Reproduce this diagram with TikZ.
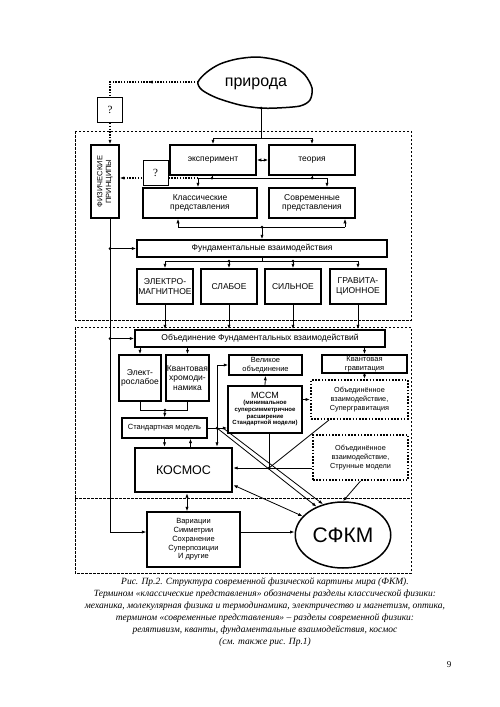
\documentclass[tikz,border=0pt]{standalone}
\usepackage{fontspec}
\setmainfont{Liberation Serif}
\setsansfont{Liberation Sans}
\usetikzlibrary{arrows.meta,calc,shapes.geometric}

\tikzset{
  blk/.style={draw, line width=1.5pt, fill=white, align=center, inner sep=1pt,
    font=\sffamily\fontsize{8.5}{9.5}\selectfont},
  small/.style={font=\sffamily\fontsize{7.5}{8.7}\selectfont},
  thinblk/.style={blk, small, line width=1.2pt},
  dotblk/.style={blk, line width=2pt, dash pattern=on 1.6pt off 1.6pt,
    font=\sffamily\fontsize{7.3}{9}\selectfont},
  qblk/.style={draw, line width=0.8pt, fill=white, minimum width=25, minimum height=25,
    font=\fontsize{11}{12}\selectfont},
  zone/.style={line width=0.6pt, dash pattern=on 2.5pt off 1.5pt},
  qline/.style={line width=1.4pt, dash pattern=on 1.4pt off 1.4pt},
  wire/.style={line width=0.8pt},
  >={Latex[length=4.5pt,width=3.2pt]},
}
\newcommand{\junc}[1]{\fill (#1) circle (1.5);}

\begin{document}
\begin{tikzpicture}[x=1pt,y=-1pt]
\useasboundingbox (0,0) rectangle (500,707);

% dashed zones
\draw[zone] (75,131) rectangle (411,320);
\draw[zone] (75,327) rectangle (411,573);
\draw[zone] (75,498) -- (411,498);

% nature
\draw[line width=1.5pt] plot[smooth cycle] coordinates
  {(198,82) (207,72) (220,64) (237,59) (257,57) (277,60) (293,66) (305,75)
   (312,88) (310,100) (300,106) (277,108) (260,108) (240,105) (217,98) (202,90)};
\node[font=\sffamily\fontsize{16}{18}\selectfont] (nature) at (256,84) {природа};
\coordinate (natL) at (198,82);
\coordinate (natB) at (261,108);

% first zone
\node[qblk] (q1) at (110,110) {?};
\node[blk, small, minimum width=28, minimum height=73] (phys) at (105,181.5)
  {\rotatebox{90}{\begin{tabular}{@{}c@{}}ФИЗИЧЕСКИЕ\\ПРИНЦИПЫ\end{tabular}}};
\node[blk, minimum width=86, minimum height=30] (exp) at (213,160) {эксперимент};
\node[blk, minimum width=86, minimum height=30] (theo) at (312,160) {теория};
\node[blk, minimum width=114, minimum height=30] (klass) at (200,203) {Классические\\представления};
\node[blk, minimum width=86, minimum height=30] (sovr) at (312,203) {Современные\\представления};
\node[blk, minimum width=250, minimum height=17] (fund) at (262,248.5) {Фундаментальные взаимодействия};
\node[blk, minimum width=56, minimum height=35] (em) at (165,286.5) {ЭЛЕКТРО-\\МАГНИТНОЕ};
\node[blk, minimum width=56, minimum height=35] (weak) at (229,286.5) {СЛАБОЕ};
\node[blk, minimum width=56, minimum height=35] (strong) at (293,286.5) {СИЛЬНОЕ};
\node[blk, minimum width=56, minimum height=35] (grav) at (358,286.5) {ГРАВИТА-\\ЦИОННОЕ};

% second zone
\node[blk, minimum width=250, minimum height=17] (unif) at (260,338.5)
  {Объединение Фундаментальных взаимодействий};
\node[blk, minimum width=42, minimum height=46] (ew) at (140,378) {Элект-\\рослабое};
\node[blk, inner sep=0pt, minimum width=43, minimum height=46] (qcd) at (187.5,378)
  {Квантовая\\хромоди-\\намика};
\node[thinblk, minimum width=85, minimum height=20] (sm) at (164.5,428) {Стандартная модель};
\node[blk, small, minimum width=73, minimum height=20] (gut) at (265.5,365) {Великое\\объединение};
\node[blk, minimum width=74, minimum height=47] (mssm) at (265,409.5)
  {\fontsize{9}{10}\selectfont МССМ\\[0.5pt]
   {\fontsize{6}{6.6}\selectfont\bfseries\begin{tabular}{@{}c@{}}(минимальное\\суперсимметричное\\расширение\\Стандартной модели)\end{tabular}}};
\node[blk, small, minimum width=85, minimum height=18] (qg) at (364.5,364) {Квантовая\\гравитация};
\node[dotblk, minimum width=97, minimum height=39] (sugra) at (359.5,399.5)
  {Объединённое\\взаимодействие,\\Супергравитация};
\node[dotblk, minimum width=95, minimum height=45] (string) at (360.5,457.5)
  {Объединённое\\взаимодействие,\\Струнные модели};
\node[blk, line width=2.4pt, minimum width=97, minimum height=44,
  font=\sffamily\fontsize{12.5}{15}\selectfont] (cosmos) at (183.5,470) {КОСМОС};

% third zone
\node[thinblk, minimum width=93, minimum height=55] (var) at (193.5,539.5)
  {Вариации\\Симметрии\\Сохранение\\Суперпозиции\\И другие};
\node[draw, ellipse, line width=1.5pt, minimum width=87, minimum height=66,
  font=\sffamily\fontsize{21}{24}\selectfont] (sfkm) at (343,535) {СФКМ};

% links at the top
\draw[qline] (natL) -| (q1.north);
\draw[qline,->] (natL) -- (148,82);
\draw[qline,->] (q1.south) -- (phys.north -| q1);
\coordinate (jA) at (261,138);
\draw[wire] (natB) -- (jA);
\junc{natB}
\draw[wire,->] (jA) -| (exp.north);
\draw[wire,->] (jA) -| (theo.north);
\draw[wire,<->] (exp.east) -- (theo.west);

\coordinate (j1) at (212,178);
\coordinate (j2) at (312,178);
\coordinate (kA) at (198,178);
\coordinate (sA) at (327,178);
\draw[qline,->] (kA) -- (kA -| phys.east);
\node[qblk] (q2) at (155.5,172.5) {?};
\draw[wire] (exp.south -| j1) -- (j1);
\draw[wire] (theo.south -| j2) -- (j2);
\draw[wire] (kA) -- (sA);
\draw[wire,->] (kA) -- (kA |- klass.north);
\draw[wire,->] (sA) -- (sA |- sovr.north);
\junc{j1} \junc{j2}

\coordinate (j3) at (262,227);
\coordinate (kB) at (178,227);
\coordinate (sB) at (345,227);
\draw[wire] (kB) -- (sB);
\draw[wire,->] (kB) -- (kB |- klass.south);
\draw[wire,->] (sB) -- (sB |- sovr.south);
\draw[wire,->] (j3) -- (fund.north);
\junc{j3}

\coordinate (jF) at (262,261);
\draw[wire] (fund.south) -- (jF);
\draw[wire] (em.north |- jF) -- (grav.north |- jF);
\foreach \n in {em,weak,strong,grav}
  {
   \draw[wire,->] (\n.north |- jF) -- (\n.north);
   \draw[wire,->] (\n.south) -- (\n.south |- unif.north);
  }
\junc{weak.north |- jF} \junc{strong.north |- jF}

% left line
\coordinate (cV) at (110,532);
\draw[wire] (phys.south -| q1) -- (cV);
\draw[wire,->] (cV) -- (cV -| var.west);
\draw[wire,->] (q1 |- fund) -- (fund.west);
\draw[wire,->] (q1 |- unif) -- (unif.west);
\junc{q1 |- fund} \junc{q1 |- unif}

% links in the second zone
\draw[wire,->] (ew.north |- unif.south) -- (ew.north);
\draw[wire,->] (qcd.north |- unif.south) -- (qcd.north);
\draw[wire,->] (qg.north |- unif.south) -- (qg.north);

\coordinate (jS) at (165,410);
\draw[wire] (ew.south) -- (ew.south |- jS) -- (qcd.south |- jS) -- (qcd.south);
\draw[wire,->] (jS) -- (sm.north);
\junc{jS}

\coordinate (jM) at (217,428);
\coordinate (jM2) at (223,428);
\draw[wire] (sm.east) -- (jM);
\draw[wire,->] (jM) -- (jM -| mssm.west);
\draw[wire,->] (jM) |- (gut.west);
\draw[wire,->] (jM) -- (jM |- cosmos.north);
\draw[wire,->] (jM) -- (sfkm.133);
\draw[wire,->] (jM2) -- (sfkm.123);
\junc{jM}

\draw[wire,->] (mssm.north) -- (gut.south);
\draw[wire,->] (sugra.west -| mssm.east) -- (sugra.west);
\draw[wire,->] (qg.south) -- (qg.south |- sugra.north);

\coordinate (jK) at (269,468);
\draw[wire] (mssm.south -| jK) -- (jK);
\draw[wire] (jK) -- ($(sugra.south west)+(19,0)$);
\draw[wire,->] (jK -| string.west) -- (jK -| cosmos.east);
\junc{jK}
\draw[wire,->] (string.south) -- (sfkm.north);

\coordinate (up) at ($(sm.south)+(26,0)$);
\draw[wire,->] (sm.south) -- (sm.south |- cosmos.north);
\draw[wire,->] (up |- cosmos.north) -- (up);

% links in the third zone
\coordinate (cv) at (187,500);
\draw[wire,<->] ($(cosmos.east)+(0,15)$) -- (sfkm.155);
\draw[wire,<->] (cv |- cosmos.south) -- (cv |- var.north);
\draw[wire,->] (cV -| var.east) -- (cV -| sfkm.west);

% caption
\node[align=center, font=\itshape\fontsize{9.5}{12}\selectfont] (caption) at (265,612)
  {Рис. Пр.2. Структура современной физической картины мира (ФКМ).\\
   Термином «классические представления» обозначены разделы классической физики:\\
   механика, молекулярная физика и термодинамика, электричество и магнетизм, оптика,\\
   термином «современные представления» – разделы современной физики:\\
   релятивизм, кванты, фундаментальные взаимодействия, космос\\
   (см. также рис. Пр.1)};
\node[font=\fontsize{9}{10}\selectfont] (page) at (449,665) {9};

\end{tikzpicture}
\end{document}
